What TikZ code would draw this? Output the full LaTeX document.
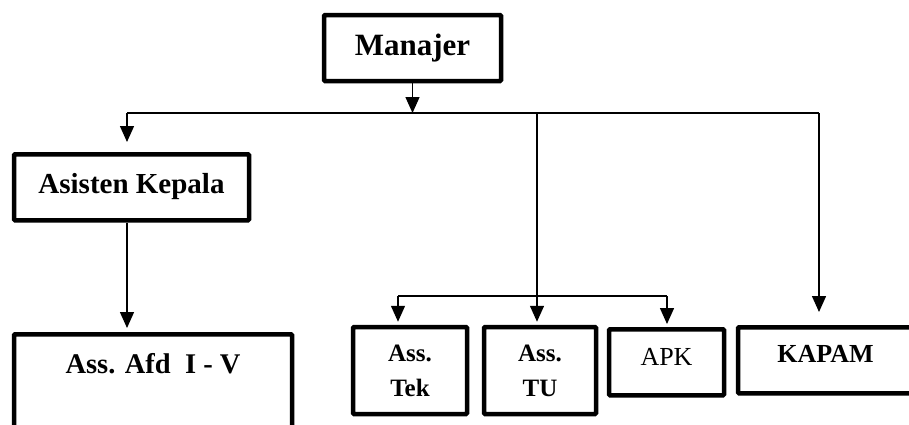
\documentclass[tikz,border=0pt]{standalone}
\usepackage{fontspec}
\setmainfont{Liberation Serif}
\usetikzlibrary{arrows.meta}
\begin{document}
\begin{tikzpicture}[x=1pt,y=1pt,
  box/.style={draw,line width=4.5pt,rounded corners=1pt,inner sep=0pt,align=center},
  conn/.style={line width=1.4pt},
  arr/.style={conn,-{Triangle[length=16pt,width=14pt]}}]
\useasboundingbox (0,0) rectangle (909,-424);
\node[box,minimum width=177pt,minimum height=66pt,font=\fontsize{31}{36}\selectfont\bfseries] (man) at (412.5,-48) {Manajer};
\node[box,anchor=north,minimum width=235pt,text height=39pt,text depth=27pt,font=\fontsize{29}{34}\selectfont\bfseries] (ak) at (131.5,-152) {Asisten Kepala};
\node[box,anchor=north,minimum width=278pt,text height=39pt,text depth=74pt,font=\fontsize{28.5}{33}\selectfont\bfseries] (afd) at (153,-332) {Ass. Afd\ \ I - V};
\node[box,minimum width=114pt,minimum height=87pt,font=\fontsize{25}{35}\selectfont\bfseries] (tek) at (410,-370.5) {Ass.\\Tek};
\node[box,minimum width=112pt,minimum height=87pt,font=\fontsize{25}{35}\selectfont\bfseries] (tu) at (540,-370.5) {Ass.\\TU};
\node[box,anchor=north,minimum width=115pt,text height=36pt,text depth=30pt,font=\fontsize{26}{30}\selectfont] (apk) at (666.5,-327) {APK};
\node[box,anchor=north,minimum width=175pt,text height=35pt,text depth=31pt,font=\fontsize{26}{30}\selectfont\bfseries] (kapam) at (825.5,-325) {KAPAM};
\coordinate (hl) at (127,-113);
\coordinate (hr) at (819,-113);
\coordinate (hm) at (537,-113);
\coordinate (bl) at (398,-296);
\coordinate (br) at (667,-296);
\draw[arr] (man.south) -- (man.south |- hl);
\draw[conn] (hl) -- (hr);
\draw[arr,shorten >=10pt] (hl) -- (hl |- ak.north);
\draw[arr,shorten >=4pt] (hl |- ak.south) -- (hl |- afd.north);
\draw[arr,shorten >=3pt] (hm) -- (hm |- tu.north);
\draw[conn] (bl) -- (br);
\draw[arr,shorten >=3pt] (bl) -- (bl |- tek.north);
\draw[arr,shorten >=3pt] (br) -- (br |- apk.north);
\draw[arr,shorten >=13pt] (hr) -- (hr |- kapam.north);
\end{tikzpicture}
\end{document}
